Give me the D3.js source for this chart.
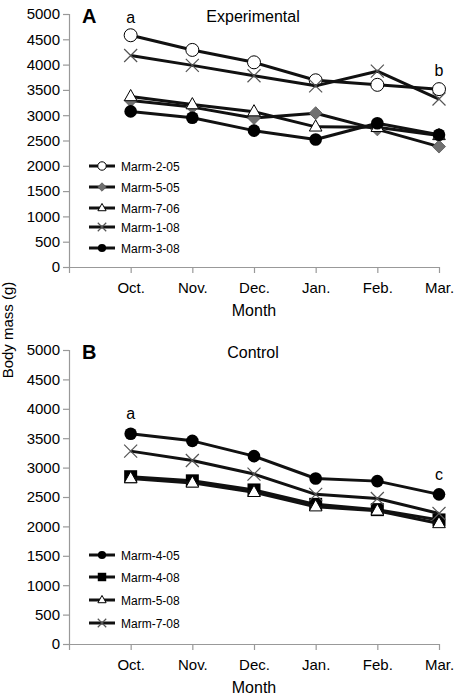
<!DOCTYPE html>
<html>
<head>
<meta charset="utf-8">
<script src="https://cdn.jsdelivr.net/npm/d3@7"></script>
<style>
  body { margin: 0; background: #fff; }
  text { font-family: "Liberation Sans", Arial, sans-serif; }
</style>
</head>
<body>
<svg id="chart" width="458" height="696"></svg>
<script>
const months = ["Oct.", "Nov.", "Dec.", "Jan.", "Feb.", "Mar."];
const yTicks = [0, 500, 1000, 1500, 2000, 2500, 3000, 3500, 4000, 4500, 5000];

// Panel A — Experimental
const expNames = ["Marm-2-05", "Marm-5-05", "Marm-7-06", "Marm-1-08", "Marm-3-08"];
const expMarkers = ["openCircle", "grayDiamond", "openTriangle", "cross", "filledCircle"];
const marm2_05 = [4580, 4290, 4045, 3690, 3600, 3515];
const marm5_05 = [3290, 3160, 2945, 3040, 2720, 2380];
const marm7_06 = [3370, 3210, 3070, 2770, 2760, 2600];
const marm1_08 = [4180, 3985, 3780, 3580, 3870, 3320];
const marm3_08 = [3075, 2950, 2695, 2520, 2840, 2615];

// Panel B — Control
const ctlNames = ["Marm-4-05", "Marm-4-08", "Marm-5-08", "Marm-7-08"];
const ctlMarkers = ["filledCircle", "filledSquare", "openTriangle", "cross"];
const marm4_05 = [3575, 3455, 3195, 2815, 2770, 2545];
const marm4_08 = [2845, 2775, 2620, 2375, 2285, 2110];
const marm5_08 = [2815, 2740, 2580, 2335, 2265, 2050];
const marm7_08 = [3280, 3120, 2890, 2545, 2475, 2220];

// significance letters (month, label height in g, text)
const expLetters = [["Oct.", 4820, "a"], ["Mar.", 3775, "b"]];
const ctlLetters = [["Oct.", 3830, "a"], ["Mar.", 2790, "c"]];

const svg = d3.select("#chart");

const x = d3.scalePoint().domain([""].concat(months)).range([69, 439]);

function drawMarker(g, type, cx, cy, s) {
  s = s || 1;
  if (type === "openCircle") {
    g.append("circle").attr("cx", cx).attr("cy", cy).attr("r", 6.5 * s)
      .attr("fill", "#fff").attr("stroke", "#000").attr("stroke-width", 1);
  } else if (type === "filledCircle") {
    g.append("circle").attr("cx", cx).attr("cy", cy).attr("r", 6.3 * s)
      .attr("fill", "#000");
  } else if (type === "grayDiamond") {
    const r = 6.5 * s;
    g.append("path").attr("d", `M${cx},${cy - r}L${cx + r},${cy}L${cx},${cy + r}L${cx - r},${cy}Z`)
      .attr("fill", "#707070").attr("stroke", "#555").attr("stroke-width", 0.8);
  } else if (type === "openTriangle") {
    const r = 7 * s;
    g.append("path").attr("d", `M${cx},${cy - r}L${cx + r * 0.9},${cy + r * 0.6}L${cx - r * 0.9},${cy + r * 0.6}Z`)
      .attr("fill", "#fff").attr("stroke", "#000").attr("stroke-width", 1);
  } else if (type === "filledSquare") {
    const r = 6.5 * s;
    g.append("rect").attr("x", cx - r).attr("y", cy - r).attr("width", 2 * r).attr("height", 2 * r)
      .attr("fill", "#000");
  } else if (type === "cross") {
    const r = 6.5 * s;
    g.append("path").attr("d", `M${cx - r},${cy - r}L${cx + r},${cy + r}M${cx - r},${cy + r}L${cx + r},${cy - r}`)
      .attr("stroke", "#555").attr("stroke-width", 1.2).attr("fill", "none");
  }
}

function panel(opts) {
  const y = d3.scaleLinear().domain([0, 5000]).range([opts.y0, opts.y1]);
  const g = svg.append("g");

  // y axis
  const ya = g.append("g").attr("transform", "translate(69,0)")
    .call(d3.axisLeft(y).tickValues(yTicks).tickSize(6).tickPadding(3).tickFormat(d3.format("d")));
  ya.select(".domain").attr("stroke", "#999").attr("stroke-width", 1.2);
  ya.selectAll(".tick line").attr("stroke", "#999").attr("stroke-width", 1.2);
  ya.selectAll("text").attr("font-size", 15).attr("fill", "#000")
    .style("font-family", "'Liberation Sans', Arial, sans-serif");

  // x axis
  const xa = g.append("g").attr("transform", `translate(0,${opts.y0})`)
    .call(d3.axisBottom(x).tickSize(6).tickSizeOuter(0).tickPadding(9));
  xa.select(".domain").attr("stroke", "#999").attr("stroke-width", 1.2);
  xa.selectAll(".tick line").attr("stroke", "#999").attr("stroke-width", 1.2);
  xa.selectAll("text").attr("font-size", 15).attr("fill", "#000")
    .style("font-family", "'Liberation Sans', Arial, sans-serif");

  g.append("text").attr("x", 254).attr("y", opts.y0 + 49).attr("text-anchor", "middle")
    .attr("font-size", 16).text("Month");

  // panel letter + title
  g.append("text").attr("x", 82).attr("y", opts.y1 + 9).attr("font-size", 20)
    .attr("font-weight", "bold").text(opts.letter);
  g.append("text").attr("x", 253).attr("y", opts.y1 + 8).attr("text-anchor", "middle")
    .attr("font-size", 16).text(opts.title);

  const line = d3.line().x((d, i) => x(months[i])).y(d => y(d));

  opts.series.forEach((s, k) => {
    g.append("path").datum(s).attr("d", line)
      .attr("fill", "none").attr("stroke", "#111").attr("stroke-width", 3)
      .attr("stroke-linejoin", "round");
    s.forEach((v, i) => drawMarker(g, opts.markers[k], x(months[i]), y(v)));
  });

  // significance letters
  opts.letters.forEach(l => {
    g.append("text").attr("x", x(l[0])).attr("y", y(l[1])).attr("text-anchor", "middle")
      .attr("font-size", 16).text(l[2]);
  });

  // legend
  opts.names.forEach((n, k) => {
    const ly = opts.legY[k];
    g.append("line").attr("x1", 89).attr("x2", 115).attr("y1", ly).attr("y2", ly)
      .attr("stroke", "#111").attr("stroke-width", 3);
    drawMarker(g, opts.markers[k], 102, ly, 0.65);
    g.append("text").attr("x", 121).attr("y", ly + 4.5).attr("font-size", 12).text(n);
  });
}

panel({
  y0: 267, y1: 14, letter: "A", title: "Experimental",
  names: expNames, markers: expMarkers,
  series: [marm2_05, marm5_05, marm7_06, marm1_08, marm3_08],
  legY: [166, 187, 208, 227, 248],
  letters: expLetters
});

panel({
  y0: 644, y1: 350, letter: "B", title: "Control",
  names: ctlNames, markers: ctlMarkers,
  series: [marm4_05, marm4_08, marm5_08, marm7_08],
  legY: [555, 577, 600, 623],
  letters: ctlLetters
});

// shared y label
svg.append("text").attr("transform", "translate(13,330) rotate(-90)")
  .attr("text-anchor", "middle").attr("font-size", 15).text("Body mass (g)");
</script>
</body>
</html>
